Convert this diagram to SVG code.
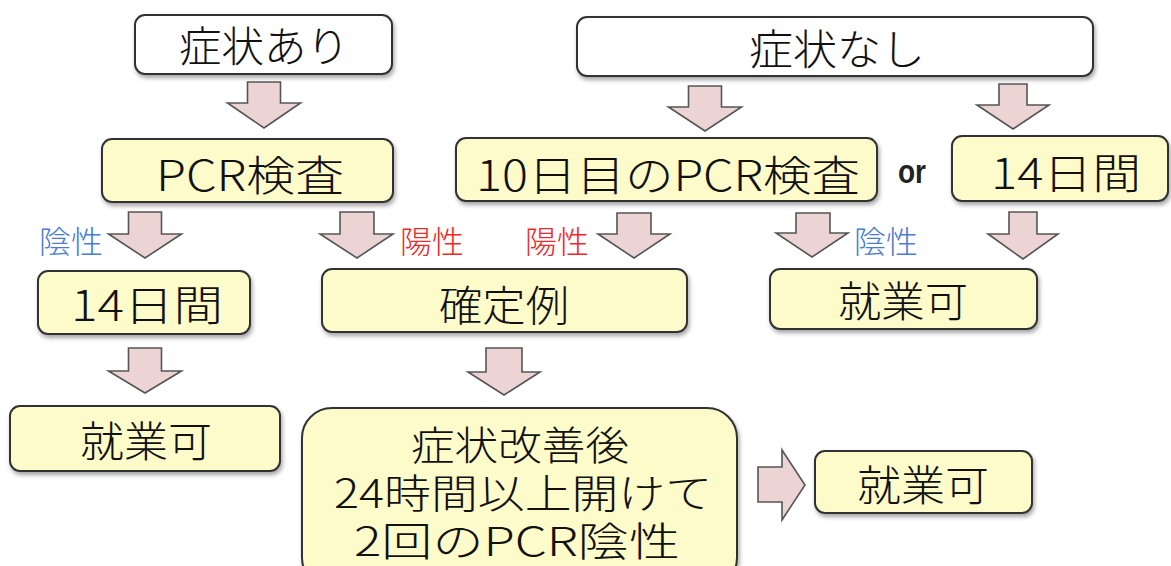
<svg xmlns="http://www.w3.org/2000/svg" width="1171" height="566" viewBox="0 0 1171 566">
<defs>
<filter id="sh" x="-10%" y="-10%" width="120%" height="130%">
<feDropShadow dx="1.5" dy="3" stdDeviation="2" flood-color="#000" flood-opacity="0.35"/>
</filter>
<style>
.box{fill:#fdfbc9;stroke:#333;stroke-width:2;filter:url(#sh)}
.wbox{fill:#fff;stroke:#333;stroke-width:2;filter:url(#sh)}
.arr{fill:#ecd4d4;stroke:#555;stroke-width:1.6;stroke-linejoin:miter}
.t{font-family:"Noto Sans CJK JP","Noto Sans",sans-serif;font-size:42px;font-weight:300;fill:#111;text-anchor:middle}
.t2{font-family:"Noto Sans CJK JP","Noto Sans",sans-serif;font-size:40px;font-weight:300;fill:#111;text-anchor:middle}
.lb{font-family:"Noto Sans CJK JP","Noto Sans",sans-serif;font-size:31px;font-weight:300;text-anchor:middle}
.blue{fill:#4a7dd2}
.red{fill:#f0282a}
.or{font-family:"Liberation Sans","Noto Sans",sans-serif;font-size:34px;font-weight:bold;fill:#222;text-anchor:middle}
</style>
</defs>
<rect width="1171" height="566" fill="#fff"/>

<g id="connectors">
<path class="arr" d="M247.5,82 H280.5 V103 H300.5 L264,128 L227.5,103 H247.5 Z"/>
<path class="arr" d="M688.5,86 H721.5 V107 H741.5 L705,131 L668.5,107 H688.5 Z"/>
<path class="arr" d="M999,84 H1027 V105 H1049 L1013,129 L977,105 H999 Z"/>
<path class="arr" d="M128.5,212 H161.5 V234 H181.5 L145,258 L108.5,234 H128.5 Z"/>
<path class="arr" d="M340,212 H374 V234 H393 L357,258 L320,234 H340 Z"/>
<path class="arr" d="M617,213 H651 V234 H670 L634,258 L598,234 H617 Z"/>
<path class="arr" d="M796,213 H830 V233 H848 L812,257 L776,233 H796 Z"/>
<path class="arr" d="M1009,212 H1037 V234 H1058 L1023,259 L988,234 H1009 Z"/>
<path class="arr" d="M128.5,348 H161.5 V371 H181.5 L145,393 L108.5,371 H128.5 Z"/>
<path class="arr" d="M486,348 H522 V372 H540 L504,395 L468,372 H486 Z"/>
<path class="arr" d="M758,467 V502 H782 V520 L805,485 L782,450 V467 Z"/>
</g>

<g id="n-symptom-yes">
<rect class="wbox" x="135" y="15" width="257" height="59" rx="10"/>
<text class="t" x="264" y="62" textLength="170" lengthAdjust="spacingAndGlyphs">症状あり</text>
</g>
<g id="n-symptom-no">
<rect class="wbox" x="577" y="17" width="516" height="59" rx="10"/>
<text class="t" x="837" y="65" textLength="176" lengthAdjust="spacingAndGlyphs">症状なし</text>
</g>
<g id="n-pcr">
<rect class="box" x="102" y="139" width="291" height="63" rx="10"/>
<text class="t" x="250" y="191" textLength="188" lengthAdjust="spacingAndGlyphs">PCR検査</text>
</g>
<g id="n-pcr10">
<rect class="box" x="456" y="138" width="421" height="63" rx="10"/>
<text class="t" x="668" y="191" textLength="384" lengthAdjust="spacingAndGlyphs">10日目のPCR検査</text>
</g>
<g id="n-or">
<text class="or" x="912" y="183" textLength="28" lengthAdjust="spacingAndGlyphs">or</text>
</g>
<g id="n-14days-right">
<rect class="box" x="952" y="136" width="216" height="65" rx="10"/>
<text class="t" x="1066" y="189" textLength="150" lengthAdjust="spacingAndGlyphs">14日間</text>
</g>

<g id="l-neg1"><text class="lb blue" x="71" y="253" textLength="64" lengthAdjust="spacingAndGlyphs">陰性</text></g>
<g id="l-pos1"><text class="lb red" x="432" y="253" textLength="64" lengthAdjust="spacingAndGlyphs">陽性</text></g>
<g id="l-pos2"><text class="lb red" x="557" y="253" textLength="64" lengthAdjust="spacingAndGlyphs">陽性</text></g>
<g id="l-neg2"><text class="lb blue" x="886" y="253" textLength="64" lengthAdjust="spacingAndGlyphs">陰性</text></g>

<g id="n-14days-left">
<rect class="box" x="38" y="271" width="212" height="63" rx="10"/>
<text class="t" x="147" y="321" textLength="152" lengthAdjust="spacingAndGlyphs">14日間</text>
</g>
<g id="n-confirmed">
<rect class="box" x="322" y="269" width="365" height="63" rx="10"/>
<text class="t" x="504" y="321" textLength="130" lengthAdjust="spacingAndGlyphs">確定例</text>
</g>
<g id="n-work-mid">
<rect class="box" x="770" y="269" width="267" height="60" rx="10"/>
<text class="t" x="903" y="317" textLength="130" lengthAdjust="spacingAndGlyphs">就業可</text>
</g>
<g id="n-work-left">
<rect class="box" x="10" y="406" width="270" height="65" rx="10"/>
<text class="t" x="146" y="457" textLength="132" lengthAdjust="spacingAndGlyphs">就業可</text>
</g>
<g id="n-improve">
<rect class="box" x="302" y="408" width="435" height="180" rx="30"/>
<text class="t2" x="520" y="460" textLength="218" lengthAdjust="spacingAndGlyphs">症状改善後</text>
<text class="t2" x="523" y="508" textLength="378" lengthAdjust="spacingAndGlyphs">24時間以上開けて</text>
<text class="t2" x="517" y="556" textLength="326" lengthAdjust="spacingAndGlyphs">2回のPCR陰性</text>
</g>
<g id="n-work-right">
<rect class="box" x="815" y="451" width="217" height="62" rx="10"/>
<text class="t" x="923" y="501" textLength="132" lengthAdjust="spacingAndGlyphs">就業可</text>
</g>
</svg>
